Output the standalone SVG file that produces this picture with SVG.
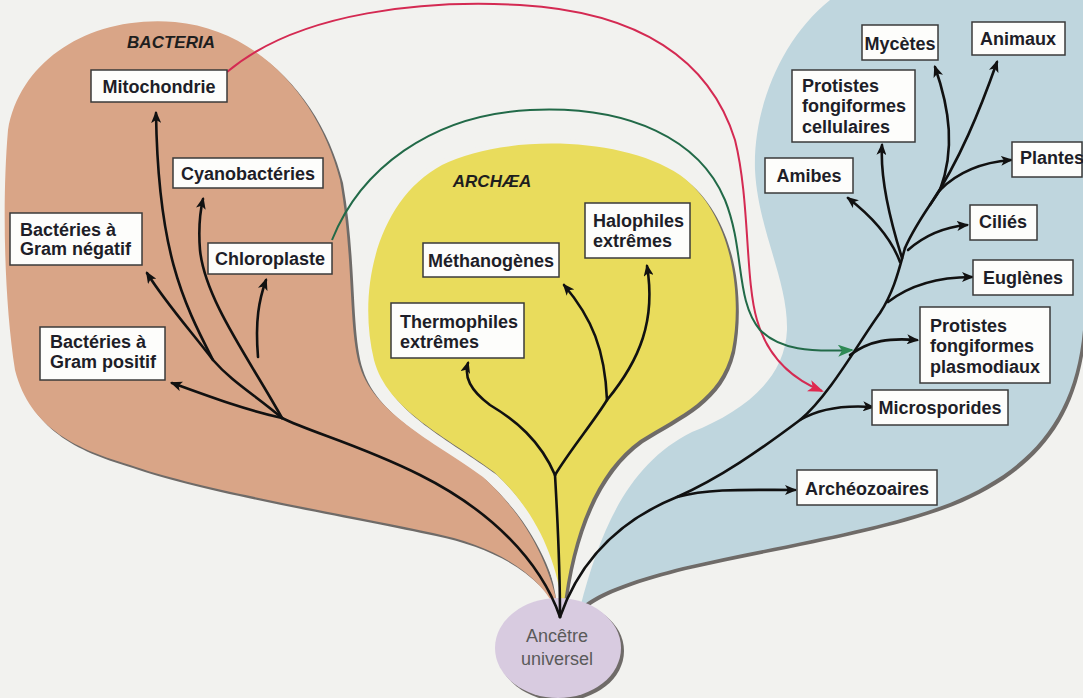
<svg xmlns="http://www.w3.org/2000/svg" width="1083" height="698" viewBox="0 0 1083 698">
<defs>
<style>
.bg{fill:#f2f2ef}
.sh{fill:#6f6b68}
.halo{fill:#f2f2ef;stroke:#f2f2ef;stroke-linejoin:round}
.tan{fill:#d9a587}
.yel{fill:#e9dc5c}
.blu{fill:#bfd6de}
.box{fill:#fdfdfb;stroke:#3a3a3a;stroke-width:1.5}
.t{font-family:"Liberation Sans",Arial,sans-serif;font-weight:bold;font-size:18px;fill:#1e1e28}
.c{text-anchor:middle}
.dom{font-family:"Liberation Sans",Arial,sans-serif;font-weight:bold;font-style:italic;font-size:17px;fill:#1e1e1e;text-anchor:middle}
.anc{font-family:"Liberation Sans",Arial,sans-serif;font-size:18px;fill:#5a5a5a;text-anchor:middle}
.br{fill:none;stroke:#111;stroke-width:2.6;stroke-linecap:round;marker-end:url(#ab)}
.br0{fill:none;stroke:#111;stroke-width:2.6;stroke-linecap:round}
.red{fill:none;stroke:#d42a52;stroke-width:2;marker-end:url(#ar)}
.grn{fill:none;stroke:#226a48;stroke-width:2;marker-end:url(#ag)}
</style>
<marker id="ab" markerUnits="userSpaceOnUse" markerWidth="12" markerHeight="10" refX="10" refY="5" orient="auto"><path d="M0,0 L12,5 L0,10 L3,5 Z" fill="#111"/></marker>
<marker id="ar" markerUnits="userSpaceOnUse" markerWidth="16" markerHeight="12" refX="14" refY="6" orient="auto"><path d="M0,0 L16,6 L0,12 L4,6 Z" fill="#e0284e"/></marker>
<marker id="ag" markerUnits="userSpaceOnUse" markerWidth="16" markerHeight="12" refX="14" refY="6" orient="auto"><path d="M0,0 L16,6 L0,12 L4,6 Z" fill="#2f8a55"/></marker>
<path id="pTan" d="M560,617 C552,570 530,520 483,477 C440,445 375,415 360,367 C348,330 354,260 340,180 C320,100 260,30 175,22 C90,15 20,60 8,130 C2,200 4,300 15,370 C30,430 80,450 130,465 C200,490 350,515 433,533 C490,545 540,570 560,617 Z"/>
<path id="pYel" d="M563,612 C558,565 540,515 494,472 C447,437 387,410 374,360 C357,290 377,200 442,165 C502,135 620,135 680,175 C735,215 742,300 732,350 C720,400 680,415 640,440 C598,470 572,530 563,612 Z"/>
<path id="pBlu" d="M580,608 C602,522 632,462 692,432 C742,412 785,380 787,330 C788,280 758,230 755,170 C753,110 780,40 830,0 L1083,0 L1083,330 C1075,420 1030,470 950,503 C880,530 780,545 683,567 C640,578 600,590 580,608 Z"/>
</defs>
<rect class="bg" x="0" y="0" width="1083" height="698"/>

<g id="bacteria-area">
<use href="#pTan" class="sh" transform="translate(3,3)"/>
<use href="#pTan" class="tan"/>
<text class="dom" x="171" y="48">BACTERIA</text>
</g>

<g id="archaea-area">
<use href="#pYel" class="halo" stroke-width="10"/>
<use href="#pYel" class="sh" transform="translate(3,3)"/>
<use href="#pYel" class="yel"/>
<text class="dom" x="492" y="187">ARCHÆA</text>
</g>

<g id="eukarya-area">
<use href="#pBlu" class="halo" stroke-width="8"/>
<use href="#pBlu" class="sh" transform="translate(3,3)"/>
<use href="#pBlu" class="blu"/>
</g>

<g id="ancetre">
<ellipse cx="561" cy="651" rx="63" ry="50" class="sh"/>
<ellipse cx="558" cy="648" rx="63" ry="50" fill="#d8cbe0"/>
<text class="anc" x="557" y="642">Ancêtre</text>
<text class="anc" x="557" y="665">universel</text>
</g>

<g id="connectors">
<path class="br0" d="M560,617 C540,560 490,510 420,475 C360,445 310,432 282,418"/>
<path class="br" d="M282,418 C245,410 205,395 172,383"/>
<path class="br" d="M282,418 C255,395 232,382 213,360 C190,330 165,302 147,273"/>
<path class="br" d="M213,360 C182,300 158,250 156,113"/>
<path class="br" d="M282,418 C250,360 205,300 200,250 C198,225 200,212 203,199"/>
<path class="br" d="M258,357 C255,320 259,300 266,280"/>
<path class="br0" d="M560,617 C560,560 557,510 555,475"/>
<path class="br" d="M555,475 C540,440 515,420 490,405 C470,390 464,377 468,363"/>
<path class="br0" d="M555,475 C570,450 595,420 607,400"/>
<path class="br" d="M607,400 C605,350 592,318 564,285"/>
<path class="br" d="M607,400 C640,360 656,320 647,266"/>
<path class="br0" d="M560,617 C580,560 620,520 677,497 C720,478 760,450 800,420 C830,395 860,340 880,313 C895,290 900,265 905,248"/>
<path class="br" d="M677,497 C710,488 750,490 795,490"/>
<path class="br" d="M800,420 C820,408 845,405 873,407"/>
<path class="br" d="M850,355 C870,340 890,338 917,340"/>
<path class="br" d="M888,302 C910,285 940,277 972,277"/>
<path class="br" d="M908,250 C925,235 945,227 967,225"/>
<path class="br" d="M900,262 C890,235 870,215 848,198"/>
<path class="br" d="M902,258 C890,220 880,180 882,145"/>
<path class="br0" d="M905,248 C915,225 930,205 940,190"/>
<path class="br" d="M940,190 C960,170 985,162 1011,160"/>
<path class="br" d="M940,190 C955,150 950,110 935,67"/>
<path class="br" d="M930,205 C960,160 980,110 997,62"/>
<path class="red" d="M227,72 C300,10 430,0 520,5 C640,12 710,60 735,140 C750,200 745,280 757,320 C767,355 790,378 822,391"/>
<path class="grn" d="M332,240 C360,170 430,115 530,110 C630,105 700,140 725,200 C745,250 735,300 760,330 C780,350 810,352 852,350"/>
</g>

<g id="mitochondrie"><rect class="box" x="91" y="70" width="136" height="32"/><text class="t c" x="159" y="93">Mitochondrie</text></g>
<g id="cyanobacteries"><rect class="box" x="173" y="158" width="150" height="30"/><text class="t c" x="248" y="180">Cyanobactéries</text></g>
<g id="gram-negatif"><rect class="box" x="10" y="213" width="132" height="52"/><text class="t" x="20" y="236">Bactéries à</text><text class="t" x="20" y="255">Gram négatif</text></g>
<g id="chloroplaste"><rect class="box" x="208" y="243" width="124" height="31"/><text class="t c" x="270" y="265">Chloroplaste</text></g>
<g id="gram-positif"><rect class="box" x="40" y="327" width="125" height="53"/><text class="t" x="50" y="348">Bactéries à</text><text class="t" x="50" y="368">Gram positif</text></g>
<g id="methanogenes"><rect class="box" x="423" y="243" width="136" height="34"/><text class="t c" x="491" y="267">Méthanogènes</text></g>
<g id="halophiles"><rect class="box" x="585" y="203" width="105" height="55"/><text class="t" x="593" y="227">Halophiles</text><text class="t" x="593" y="247">extrêmes</text></g>
<g id="thermophiles"><rect class="box" x="391" y="303" width="133" height="55"/><text class="t" x="400" y="328">Thermophiles</text><text class="t" x="400" y="348">extrêmes</text></g>
<g id="mycetes"><rect class="box" x="862" y="25" width="76" height="35"/><text class="t c" x="900" y="50">Mycètes</text></g>
<g id="animaux"><rect class="box" x="972" y="22" width="93" height="33"/><text class="t c" x="1018" y="45">Animaux</text></g>
<g id="protistes-cellulaires"><rect class="box" x="792" y="70" width="123" height="72"/><text class="t" x="802" y="92">Protistes</text><text class="t" x="802" y="112">fongiformes</text><text class="t" x="802" y="133">cellulaires</text></g>
<g id="amibes"><rect class="box" x="765" y="158" width="88" height="35"/><text class="t c" x="809" y="182">Amibes</text></g>
<g id="plantes"><rect class="box" x="1012" y="142" width="70" height="35"/><text class="t" x="1020" y="164">Plantes</text></g>
<g id="cilies"><rect class="box" x="970" y="205" width="67" height="35"/><text class="t c" x="1003" y="228">Ciliés</text></g>
<g id="euglenes"><rect class="box" x="973" y="260" width="100" height="35"/><text class="t c" x="1023" y="284">Euglènes</text></g>
<g id="protistes-plasmodiaux"><rect class="box" x="920" y="307" width="130" height="76"/><text class="t" x="930" y="332">Protistes</text><text class="t" x="930" y="352">fongiformes</text><text class="t" x="930" y="373">plasmodiaux</text></g>
<g id="microsporides"><rect class="box" x="872" y="390" width="136" height="35"/><text class="t c" x="940" y="414">Microsporides</text></g>
<g id="archeozoaires"><rect class="box" x="797" y="470" width="140" height="35"/><text class="t c" x="867" y="495">Archéozoaires</text></g>
</svg>
